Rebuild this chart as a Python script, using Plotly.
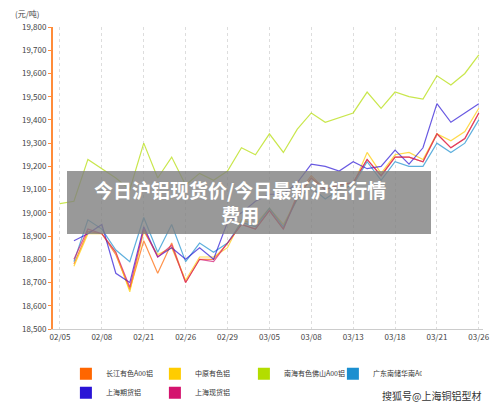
import plotly.graph_objects as go

idx = list(range(31))
tick_idx = [0, 3, 6, 9, 12, 15, 18, 21, 24, 27, 30]
tick_labels = ["02/05", "02/08", "02/21", "02/26", "02/29", "03/05", "03/08", "03/13", "03/18", "03/21", "03/26"]

nanhai = [19040, 19050, 19230, 19190, 19150, 19100, 19300, 19150, 19240, 19120, 19170, 19140, 19180, 19280,
          19250, 19340, 19260, 19360, 19430, 19390, 19410, 19430, 19520, 19450, 19520, 19500, 19490, 19590,
          19550, 19600, 19680]
changjiang = [None, 18780, 18920, 18910, 18820, 18670, 18880, 18740, 18870, 18700, 18800, 18800, 18870, 18950,
              18930, 19010, 18930, 19080, 19160, 19100, 19120, 19130, 19230, 19160, 19240, 19240, 19220, 19340,
              19280, 19320, 19430]
zhongyuan = [None, 18770, 18910, 18910, 18830, 18660, 18920, 18820, 18850, 18710, 18810, 18810, 18850, 18970,
             18950, 19020, 18950, 19060, 19150, 19100, 19120, 19120, 19260, 19170, 19250, 19260, 19230, 19340,
             19310, 19350, 19450]
guangdong = [None, 18790, 18970, 18930, 18840, 18790, 18980, 18830, 18950, 18790, 18870, 18830, 18870, 18960,
             18940, 19020, 18940, 19060, 19110, 19060, 19100, 19120, 19220, 19140, 19220, 19200, 19200, 19300,
             19260, 19300, 19400]
shfe = [None, 18880, 18910, 18950, 18740, 18700, 18940, 18810, 18850, 18800, 18850, 18800, 18960, 19000,
        19050, 19080, 19080, 19130, 19210, 19200, 19180, 19220, 19190, 19200, 19270, 19210, 19280, 19470,
        19390, 19430, 19470]
shspot = [None, 18800, 18930, 18910, 18830, 18680, 18930, 18810, 18860, 18700, 18800, 18790, 18870, 18950,
          18930, 19010, 18930, 19070, 19150, 19100, 19120, 19130, 19230, 19160, 19240, 19240, 19220, 19340,
          19280, 19320, 19430]

series = [
    ("长江有色A00铝", changjiang, "#FF6600"),
    ("中原有色铝", zhongyuan, "#FFCC00"),
    ("南海有色佛山A00铝", nanhai, "#B3DD00"),
    ("广东南储华南A00铝", guangdong, "#1B8FD0"),
    ("上海期货铝", shfe, "#2A14D6"),
    ("上海现货铝", shspot, "#D4136E"),
]

fig = go.Figure()
for name, vals, color in series:
    fig.add_trace(go.Scatter(x=idx, y=vals, mode="lines", line=dict(color=color, width=1.2),
                             opacity=0.7, showlegend=False))
for name, vals, color in series:
    fig.add_trace(go.Scatter(x=[None], y=[None], mode="markers", name=name,
                             marker=dict(symbol="square", size=10, color=color)))

fig.update_layout(
    width=500, height=405, margin=dict(l=53, r=17, t=27, b=76, autoexpand=False),
    paper_bgcolor="white", plot_bgcolor="white",
    font=dict(family="Noto Sans CJK SC", size=8, color="#333"),
    xaxis=dict(range=[-0.5, 30.3], tickvals=tick_idx, ticktext=tick_labels, showgrid=True,
               gridcolor="#ddd", griddash="dot", gridwidth=1, showline=True, linecolor="#ccc",
               zeroline=False, tickfont=dict(size=8, color="#444")),
    yaxis=dict(range=[18500, 19800], dtick=100, tickformat=",", showgrid=False, showline=True,
               linecolor="#FF8C3A", linewidth=2, zeroline=False, ticks="outside", ticklen=3,
               tickcolor="#FF8C3A", tickfont=dict(size=8, color="#444")),
    legend=dict(orientation="h", x=0.03, y=-0.1, xanchor="left", yanchor="top",
                entrywidth=44, itemwidth=30, font=dict(size=7), itemsizing="constant",
                tracegroupgap=0, bgcolor="rgba(0,0,0,0)"),
)

fig.add_annotation(text="(元/吨)", xref="paper", yref="paper", x=-0.06, y=1.07, xanchor="center",
                   showarrow=False, font=dict(size=8, color="#444"))

fig.add_shape(type="rect", xref="paper", yref="paper", x0=(67 - 53) / 430, x1=(431 - 53) / 430,
              y0=(329 - 234) / 302, y1=(329 - 171) / 302, fillcolor="rgba(128,128,128,0.8)",
              line=dict(width=0), layer="above")
fig.add_annotation(text="<b>今日沪铝现货价/今日最新沪铝行情<br>费用</b>", xref="paper", yref="paper",
                   x=(240 - 53) / 430, y=(329 - 202) / 302, showarrow=False,
                   font=dict(size=19, color="white"), align="center")
fig.add_annotation(text="搜狐号@上海铜铝型材", xref="paper", yref="paper", x=1.0, y=-0.19,
                   xanchor="right", yanchor="top", showarrow=False, font=dict(size=10, color="#333"))

fig.write_html("out.html", config={"displayModeBar": False},
               post_script="document.body.style.margin='0';")
